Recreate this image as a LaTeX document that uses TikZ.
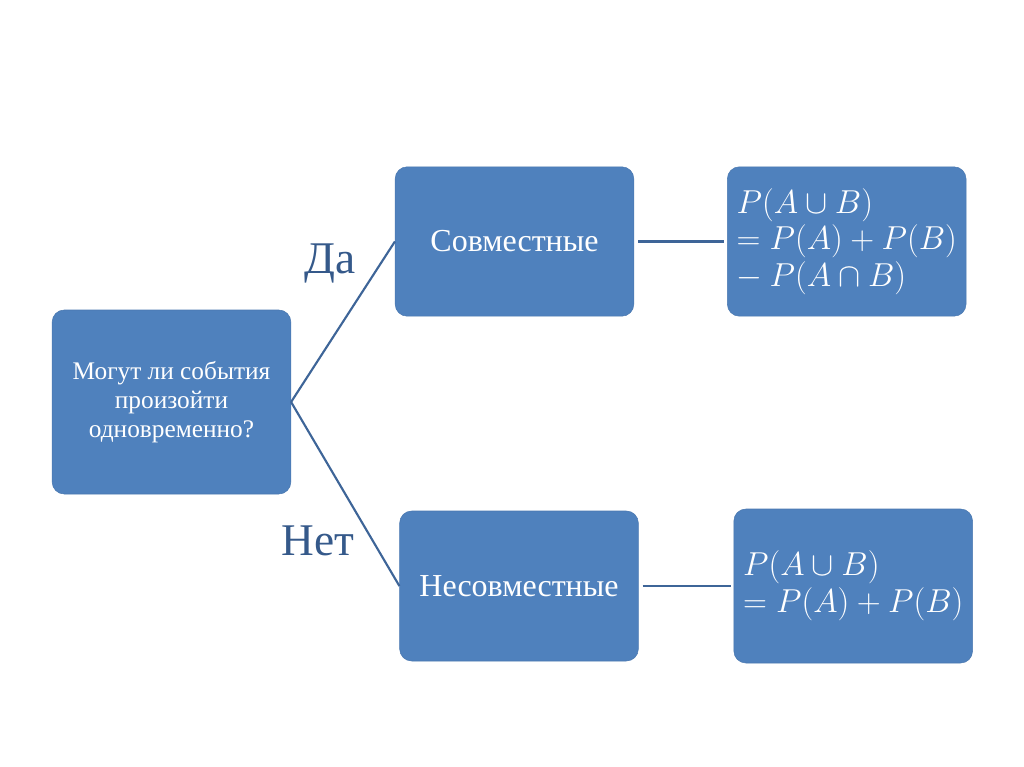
\documentclass[tikz,border=0pt]{standalone}
\usepackage{fontspec}
\setmainfont{Liberation Serif}
\usetikzlibrary{positioning}
\definecolor{boxblue}{HTML}{4F81BD}
\definecolor{edgeblue}{HTML}{4A78B0}
\definecolor{lineblue}{HTML}{3E6598}
\definecolor{textblue}{HTML}{35598A}
\tikzset{
  stepbox/.style={
    rectangle, rounded corners=9pt, draw=edgeblue, fill=boxblue,
    text=white, minimum width=179pt, minimum height=#1,
    align=center, inner sep=4pt,
    font=\fontsize{24}{28}\selectfont
  },
  stepbox/.default=112pt,
  formbox/.style={
    stepbox=#1, align=left,
    font=\fontsize{23.5}{27.5}\selectfont
  },
  formbox/.default=112pt,
  link/.style={draw=lineblue, line width=1.6pt},
  answer/.style={text=textblue, font=\fontsize{34}{36}\selectfont}
}

\begin{document}
\begin{tikzpicture}[x=0.75pt, y=-0.75pt, node distance=70pt]
  \useasboundingbox (0,0) rectangle (1024,767);

  % question
  \node[stepbox=138pt, font=\fontsize{19}{22}\selectfont] (q) at (171.5,402)
    {Могут ли события\\произойти\\одновременно?};

  % answers
  \node[stepbox] (sov) at (514.5,241.5) {Совместные};
  \node[stepbox=112.5pt] (nesov) at (519,586) {Несовместные};

  % formulas
  \node[formbox, right=69.75pt of sov] (f1)
    {$P(A\cup B)$\\$=P(A)+P(B)$\\$-\mskip\medmuskip P(A\cap B)$};
  \node[formbox=115.5pt, right=71.25pt of nesov] (f2)
    {$P(A\cup B)$\\$=P(A)+P(B)$};

  \draw[link] (q.east) -- (sov.west);
  \draw[link] (q.east) -- (nesov.west);
  \draw[link, shorten <=3pt, shorten >=2pt] (sov.east) -- (f1.west);
  \draw[link, shorten <=3pt, shorten >=2pt] (nesov.east) -- (f2.west);

  \node[answer] (yes) at (330,263) {Да};
  \node[answer] (no) at (318,541) {Нет};
\end{tikzpicture}
\end{document}
